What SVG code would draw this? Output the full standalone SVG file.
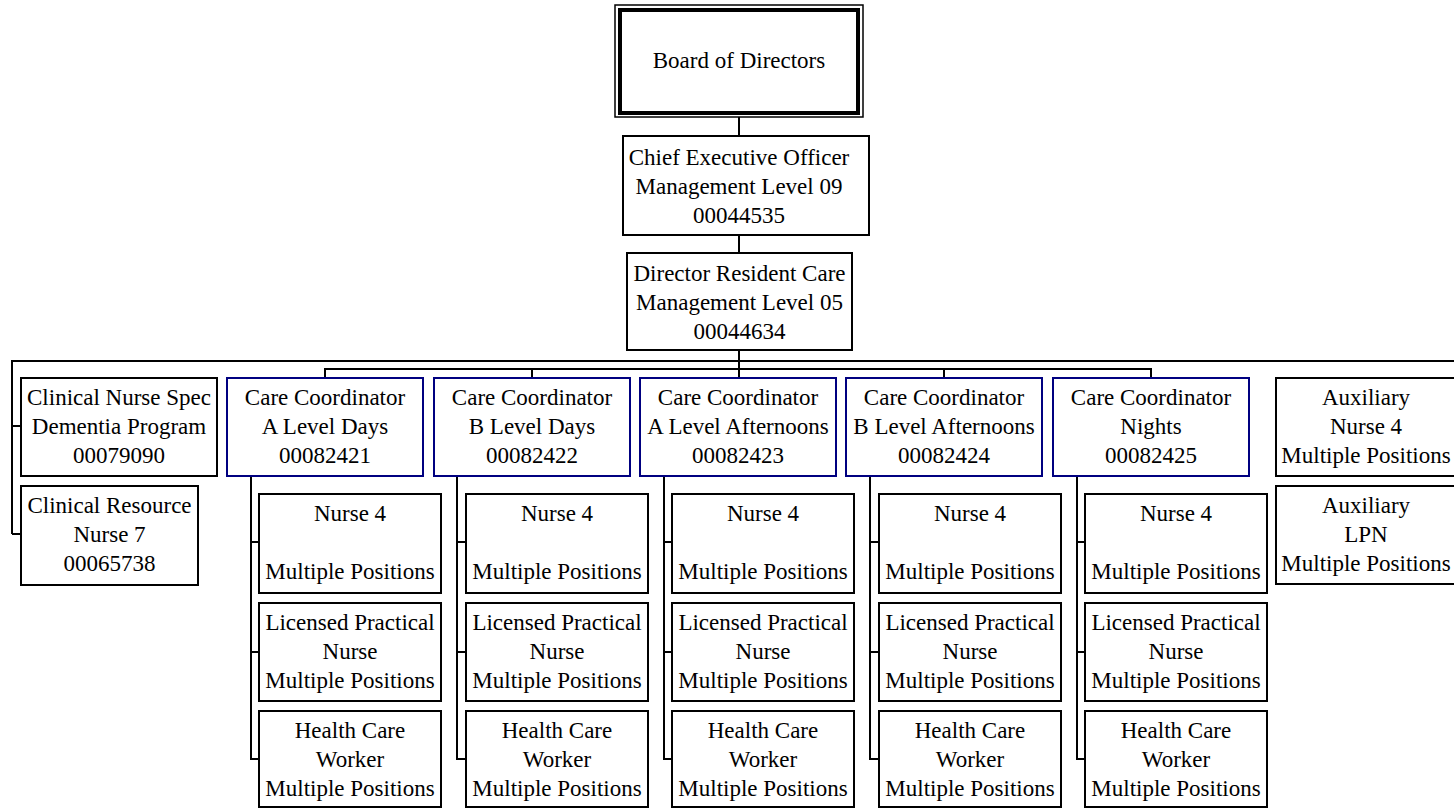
<svg xmlns="http://www.w3.org/2000/svg" width="1454" height="809" viewBox="0 0 1454 809">
<style>
  .bg { fill: #ffffff; }
  .box { fill: #ffffff; stroke: #000000; stroke-width: 2; }
  .cc { fill: #ffffff; stroke: #000080; stroke-width: 2; }
  .conn { fill: none; stroke: #000000; stroke-width: 2; }
  text { font-family: 'Liberation Serif', 'DejaVu Serif', serif; font-size: 23px; fill: #000000; text-anchor: middle; }
</style>
<rect class="bg" x="0" y="0" width="1454" height="809"/>

<g id="connectors">
  <path class="conn" d="M739,117 V136 M739,235 V253 M739,350 V378"/>
  <path class="conn" d="M12,534 V361 H1460 M12,426 H21 M12,534 H21"/>
  <path class="conn" d="M325,378 V369 H1151 V378 M532,369 V378 M944,369 V378"/>
  <path class="conn" d="M251,476 V759 H259 M251,542 H259 M251,652 H259"/>
  <path class="conn" d="M457,476 V759 H466 M457,542 H466 M457,652 H466"/>
  <path class="conn" d="M664,476 V759 H672 M664,542 H672 M664,652 H672"/>
  <path class="conn" d="M870,476 V759 H879 M870,542 H879 M870,652 H879"/>
  <path class="conn" d="M1077,476 V759 H1085 M1077,542 H1085 M1077,652 H1085"/>
</g>

<g id="board">
  <rect x="615" y="5" width="248" height="112" fill="#ffffff" stroke="#000000" stroke-width="1.5"/>
  <rect x="620" y="10" width="238" height="103" fill="none" stroke="#000000" stroke-width="4"/>
  <text x="739" y="68">Board of Directors</text>
</g>

<g id="ceo">
  <rect class="box" x="623" y="136" width="246" height="99"/>
  <text x="739" y="165">Chief Executive Officer</text>
  <text x="739" y="194">Management Level 09</text>
  <text x="739" y="223">00044535</text>
</g>

<g id="director">
  <rect class="box" x="627" y="253" width="225" height="97"/>
  <text x="739.5" y="281">Director Resident Care</text>
  <text x="739.5" y="310">Management Level 05</text>
  <text x="739.5" y="339">00044634</text>
</g>

<g id="cns">
  <rect class="box" x="21" y="378" width="196" height="98"/>
  <text x="119" y="405">Clinical Nurse Spec</text>
  <text x="119" y="434">Dementia Program</text>
  <text x="119" y="463">00079090</text>
</g>

<g id="crn">
  <rect class="box" x="21" y="486" width="177" height="99"/>
  <text x="109.5" y="513">Clinical Resource</text>
  <text x="109.5" y="542">Nurse 7</text>
  <text x="109.5" y="571">00065738</text>
</g>

<g id="cc-a-days">
  <rect class="cc" x="227" y="378" width="196" height="98"/>
  <text x="325" y="405">Care Coordinator</text>
  <text x="325" y="434">A Level Days</text>
  <text x="325" y="463">00082421</text>
</g>
<g id="cc-b-days">
  <rect class="cc" x="434" y="378" width="196" height="98"/>
  <text x="532" y="405">Care Coordinator</text>
  <text x="532" y="434">B Level Days</text>
  <text x="532" y="463">00082422</text>
</g>
<g id="cc-a-aft">
  <rect class="cc" x="640" y="378" width="196" height="98"/>
  <text x="738" y="405">Care Coordinator</text>
  <text x="738" y="434">A Level Afternoons</text>
  <text x="738" y="463">00082423</text>
</g>
<g id="cc-b-aft">
  <rect class="cc" x="846" y="378" width="196" height="98"/>
  <text x="944" y="405">Care Coordinator</text>
  <text x="944" y="434">B Level Afternoons</text>
  <text x="944" y="463">00082424</text>
</g>
<g id="cc-nights">
  <rect class="cc" x="1053" y="378" width="196" height="98"/>
  <text x="1151" y="405">Care Coordinator</text>
  <text x="1151" y="434">Nights</text>
  <text x="1151" y="463">00082425</text>
</g>

<g id="aux-nurse4">
  <rect class="box" x="1276" y="378" width="182" height="98"/>
  <text x="1366" y="405">Auxiliary</text>
  <text x="1366" y="434">Nurse 4</text>
  <text x="1366" y="463">Multiple Positions</text>
</g>
<g id="aux-lpn">
  <rect class="box" x="1276" y="486" width="182" height="98"/>
  <text x="1366" y="513">Auxiliary</text>
  <text x="1366" y="542">LPN</text>
  <text x="1366" y="571">Multiple Positions</text>
</g>

<g id="n4-1"><rect class="box" x="259" y="494" width="182" height="99"/><text x="350" y="521">Nurse 4</text><text x="350" y="579">Multiple Positions</text></g>
<g id="lpn-1"><rect class="box" x="259" y="603" width="182" height="98"/><text x="350" y="630">Licensed Practical</text><text x="350" y="659">Nurse</text><text x="350" y="688">Multiple Positions</text></g>
<g id="hcw-1"><rect class="box" x="259" y="711" width="182" height="96"/><text x="350" y="738">Health Care</text><text x="350" y="767">Worker</text><text x="350" y="796">Multiple Positions</text></g>

<g id="n4-2"><rect class="box" x="466" y="494" width="182" height="99"/><text x="557" y="521">Nurse 4</text><text x="557" y="579">Multiple Positions</text></g>
<g id="lpn-2"><rect class="box" x="466" y="603" width="182" height="98"/><text x="557" y="630">Licensed Practical</text><text x="557" y="659">Nurse</text><text x="557" y="688">Multiple Positions</text></g>
<g id="hcw-2"><rect class="box" x="466" y="711" width="182" height="96"/><text x="557" y="738">Health Care</text><text x="557" y="767">Worker</text><text x="557" y="796">Multiple Positions</text></g>

<g id="n4-3"><rect class="box" x="672" y="494" width="182" height="99"/><text x="763" y="521">Nurse 4</text><text x="763" y="579">Multiple Positions</text></g>
<g id="lpn-3"><rect class="box" x="672" y="603" width="182" height="98"/><text x="763" y="630">Licensed Practical</text><text x="763" y="659">Nurse</text><text x="763" y="688">Multiple Positions</text></g>
<g id="hcw-3"><rect class="box" x="672" y="711" width="182" height="96"/><text x="763" y="738">Health Care</text><text x="763" y="767">Worker</text><text x="763" y="796">Multiple Positions</text></g>

<g id="n4-4"><rect class="box" x="879" y="494" width="182" height="99"/><text x="970" y="521">Nurse 4</text><text x="970" y="579">Multiple Positions</text></g>
<g id="lpn-4"><rect class="box" x="879" y="603" width="182" height="98"/><text x="970" y="630">Licensed Practical</text><text x="970" y="659">Nurse</text><text x="970" y="688">Multiple Positions</text></g>
<g id="hcw-4"><rect class="box" x="879" y="711" width="182" height="96"/><text x="970" y="738">Health Care</text><text x="970" y="767">Worker</text><text x="970" y="796">Multiple Positions</text></g>

<g id="n4-5"><rect class="box" x="1085" y="494" width="182" height="99"/><text x="1176" y="521">Nurse 4</text><text x="1176" y="579">Multiple Positions</text></g>
<g id="lpn-5"><rect class="box" x="1085" y="603" width="182" height="98"/><text x="1176" y="630">Licensed Practical</text><text x="1176" y="659">Nurse</text><text x="1176" y="688">Multiple Positions</text></g>
<g id="hcw-5"><rect class="box" x="1085" y="711" width="182" height="96"/><text x="1176" y="738">Health Care</text><text x="1176" y="767">Worker</text><text x="1176" y="796">Multiple Positions</text></g>
</svg>
